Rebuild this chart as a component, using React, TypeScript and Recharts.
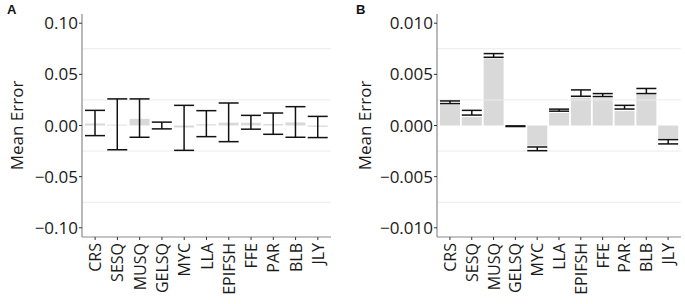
import { BarChart, Bar, XAxis, YAxis, ErrorBar, ReferenceLine } from 'recharts';

const categories = ['CRS', 'SESQ', 'MUSQ', 'GELSQ', 'MYC', 'LLA', 'EPIFSH', 'FFE', 'PAR', 'BLB', 'JLY'];
// bar heights (same in both panels)
const barValues = [0.002, 0.00082, 0.00654, -0.00005, -0.00197, 0.00122, 0.00273, 0.00266, 0.00141, 0.00299, -0.00128];
// panel A error bar ends
const lowA = [-0.0099, -0.0237, -0.0115, -0.0033, -0.0243, -0.0109, -0.0158, -0.0036, -0.0086, -0.0115, -0.0118];
const highA = [0.0148, 0.026, 0.026, 0.0033, 0.0197, 0.0145, 0.022, 0.0099, 0.0122, 0.0184, 0.0089];
// panel B error bar ends
const lowB = [0.00214, 0.00102, 0.00667, -0.0001, -0.00246, 0.0014, 0.00286, 0.00283, 0.00161, 0.00312, -0.0018];
const highB = [0.0024, 0.00148, 0.00703, -0.00004, -0.0021, 0.0016, 0.00348, 0.00312, 0.00197, 0.00362, -0.00138];

const ticksA = [-0.1, -0.05, 0, 0.05, 0.1];
const ticksB = [-0.01, -0.005, 0, 0.005, 0.01];
const gridA = [-0.075, -0.025, 0.025, 0.075];
const gridB = [-0.0075, -0.0025, 0.0025, 0.0075];

const FONT = '"Open Sans", "Noto Sans", sans-serif';
const FRAME = '#8a8a8a';

const makeRows = (low: number[], high: number[]) =>
  categories.map((name, i) => ({
    name,
    value: barValues[i],
    err: [barValues[i] - low[i], high[i] - barValues[i]],
  }));

const XTick = (props: any) => {
  const { x, y, payload } = props;
  return (
    <text
      x={x}
      y={y}
      transform={`rotate(-90 ${x} ${y})`}
      textAnchor="end"
      dominantBaseline="central"
      fontFamily={FONT}
      fontSize={16}
      fill="#1a1a1a"
    >
      {payload.value}
    </text>
  );
};

type PanelProps = {
  left: number;
  width: number;
  yWidth: number;
  rightMargin: number;
  labelX: number;
  letterX: number;
  letter: string;
  low: number[];
  high: number[];
  ticks: number[];
  grid: number[];
  domain: [number, number];
  digits: number;
};

const Panel = (p: PanelProps) => {
  const fmt = (v: number) => (v < 0 ? '\u2212' : '') + Math.abs(v).toFixed(p.digits);
  return (
    <div style={{ position: 'absolute', left: p.left, top: 0 }}>
      <span
        style={{
          position: 'absolute',
          left: p.letterX,
          top: 2,
          fontFamily: '"Liberation Sans", Arial, sans-serif',
          fontWeight: 'bold',
          fontSize: 13,
          color: '#111',
        }}
      >
        {p.letter}
      </span>
      <BarChart
        width={p.width}
        height={304}
        data={makeRows(p.low, p.high)}
        margin={{ top: 14, right: p.rightMargin, bottom: 0, left: 0 }}
        barSize={20}
      >
        {p.grid.map((g) => (
          <ReferenceLine key={g} y={g} stroke="#ebebeb" strokeWidth={1} />
        ))}
        <XAxis
          dataKey="name"
          height={67}
          interval={0}
          padding={{ left: 2, right: 2 }}
          axisLine={{ stroke: FRAME, strokeWidth: 1.2 }}
          tickLine={{ stroke: '#333' }}
          tickSize={3}
          tickMargin={3}
          tick={<XTick />}
        />
        <XAxis
          xAxisId="top"
          dataKey="name"
          orientation="top"
          height={0}
          tick={false}
          tickLine={false}
          axisLine={{ stroke: FRAME, strokeWidth: 1.2 }}
        />
        <YAxis
          width={p.yWidth}
          domain={p.domain}
          ticks={p.ticks}
          tickFormatter={fmt}
          interval={0}
          axisLine={{ stroke: FRAME, strokeWidth: 1.2 }}
          tickLine={{ stroke: '#333' }}
          tickSize={3}
          tickMargin={1}
          tick={{ fontFamily: FONT, fontSize: 17, fill: '#1a1a1a' }}
          label={{
            content: (lp: any) => {
              const vb = lp.viewBox;
              const cy = vb.y + vb.height / 2;
              return (
                <text
                  x={p.labelX}
                  y={cy}
                  transform={`rotate(-90 ${p.labelX} ${cy})`}
                  textAnchor="middle"
                  dominantBaseline="central"
                  fontFamily={FONT}
                  fontSize={17}
                  fill="#1a1a1a"
                >
                  Mean Error
                </text>
              );
            },
          }}
        />
        <YAxis
          yAxisId="right"
          orientation="right"
          width={0}
          tick={false}
          tickLine={false}
          axisLine={{ stroke: FRAME, strokeWidth: 1.2 }}
        />
        <Bar dataKey="value" fill="#d9d9d9" isAnimationActive={false}>
          <ErrorBar dataKey="err" width={10} stroke="#111" strokeWidth={1.5} direction="y" />
        </Bar>
      </BarChart>
    </div>
  );
};

export default function App() {
  return (
    <div style={{ position: 'absolute', left: 0, top: 0, width: 685, height: 304, background: '#fff' }}>
      <Panel
        left={0}
        width={340}
        yWidth={82}
        rightMargin={9}
        labelX={16}
        letterX={7}
        letter="A"
        low={lowA}
        high={highA}
        ticks={ticksA}
        grid={gridA}
        domain={[-0.109, 0.109]}
        digits={2}
      />
      <Panel
        left={340}
        width={345}
        yWidth={97}
        rightMargin={4}
        labelX={24}
        letterX={16}
        letter="B"
        low={lowB}
        high={highB}
        ticks={ticksB}
        grid={gridB}
        domain={[-0.0109, 0.0109]}
        digits={3}
      />
    </div>
  );
}
